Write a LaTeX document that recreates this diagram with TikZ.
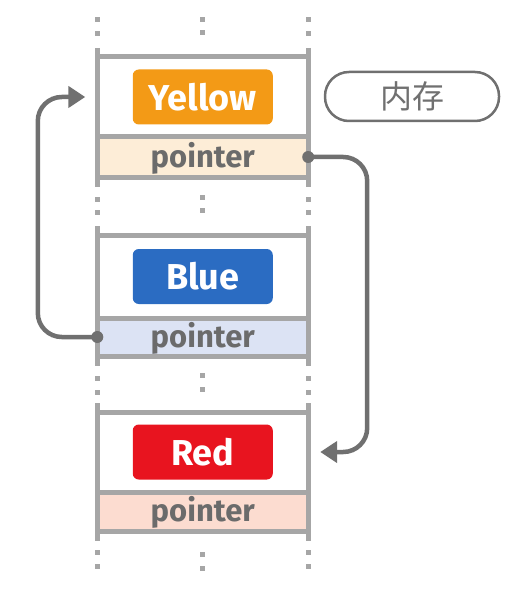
\documentclass[tikz,border=0pt]{standalone}
\usepackage{fontspec}
\setmainfont{Fira Sans}
\newfontfamily\cjkfont{Noto Sans CJK SC}
\usetikzlibrary{arrows.meta,calc}
\definecolor{framegray}{HTML}{A6A6A6}
\definecolor{conngray}{HTML}{707070}
\definecolor{textgray}{HTML}{6B6B6B}
\definecolor{lyellow}{HTML}{F39A16}
\definecolor{lblue}{HTML}{2B6CC2}
\definecolor{lred}{HTML}{E8141F}
\definecolor{pyellow}{HTML}{FDEDD7}
\definecolor{pblue}{HTML}{DCE3F4}
\definecolor{pred}{HTML}{FCDCD0}
\tikzset{
  frameline/.style={draw=framegray, line width=5pt},
  dotsq/.style={fill=framegray},
  databox/.style={minimum width=210.5pt, inner sep=0pt, draw=none},
  ptrbox/.style={minimum width=210.5pt, inner sep=0pt, draw=none, text=textgray,
     font=\fontsize{31}{31}\selectfont\bfseries},
  colorlabel/.style={rounded corners=6pt, minimum width=140pt, minimum height=55pt,
     inner sep=0pt, text=white, font=\fontsize{36}{36}\selectfont\bfseries},
  memlabel/.style={draw=conngray, line width=2.5pt, rounded corners=24pt,
     minimum width=174pt, minimum height=49pt, inner sep=0pt, text=conngray,
     font=\cjkfont\fontsize{32}{32}\selectfont},
  conn/.style={draw=conngray, line width=4.5pt, rounded corners=24pt,
     -{Triangle[length=17pt,width=21pt]}},
  conndot/.style={fill=conngray},
}
\begin{document}
\begin{tikzpicture}[x=1pt,y=-1pt]
\useasboundingbox (0,0) rectangle (522,604);
% boxes: name / top / divider / bottom / label / label colour / pointer fill
\foreach \n/\T/\D/\B/\lab/\lc/\pc in {1/57/137/177/Yellow/lyellow/pyellow,
                                     2/235/318/356/Blue/lblue/pblue,
                                     3/412/492/531/Red/lred/pred}{
  \node[databox, minimum height={\D-\T}] (data\n) at (202.75,{(\T+\D)/2}) {};
  \node[ptrbox, fill=\pc, minimum height={\B-\D}] (ptr\n) at (202.75,{(\D+\B)/2}) {};
  \node[ptrbox] (ptrtext\n) at ($(ptr\n)+(0,1)$) {pointer};
  \node[colorlabel, fill=\lc] (lab\n) at (data\n) {\lab};
  \draw[frameline] (97.5,{\T-9}) -- (97.5,{\B+10});
  \draw[frameline] (308,{\T-9}) -- (308,{\B+10});
  \draw[frameline] (97.5,\T) -- (308,\T);
  \draw[frameline] (97.5,\D) -- (308,\D);
  \draw[frameline] (97.5,\B) -- (308,\B);
}
% dotted continuations
\foreach \ys/\ym in {20/20,34/33,199/197,212/210,378/375,392/389,552/554,566/568}{
  \fill[dotsq] (95,{\ys-2.5}) rectangle (100,{\ys+2.5});
  \fill[dotsq] (305.5,{\ys-2.5}) rectangle (310.5,{\ys+2.5});
  \fill[dotsq] (200,{\ym-2.5}) rectangle (205,{\ym+2.5});
}
% memory label
\node[memlabel] (mem) at (412,96.5) {内存};
% connectors
\coordinate (tgt3) at ($(data3.east)+(12,0)$);
\coordinate (tgt1) at ($(data1.west)+(-12,0)$);
\draw[conn] (ptr1.east) -| ($(data3.east)+(59,0)$) -- (tgt3);
\fill[conndot] (ptr1.east) circle (6pt);
\draw[conn] (ptr2.west) -| ($(data1.west)+(-59.5,0)$) -- (tgt1);
\fill[conndot] (ptr2.west) circle (6pt);
\end{tikzpicture}
\end{document}
